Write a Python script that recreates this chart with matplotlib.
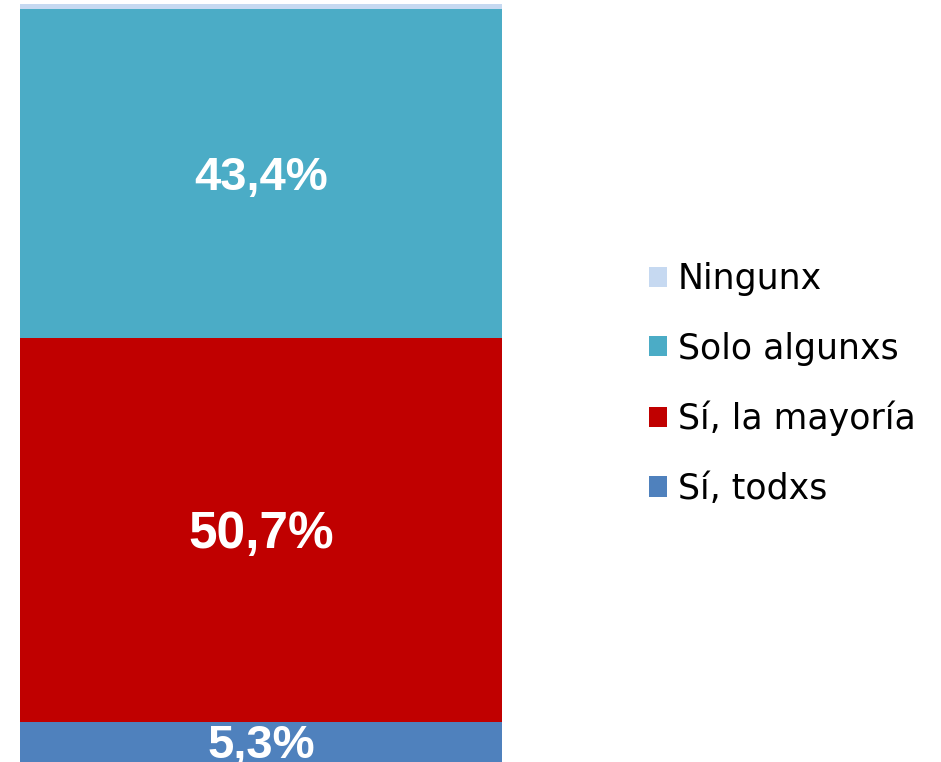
import numpy as np
import matplotlib.pyplot as plt
from matplotlib.patches import Patch

## single 100% stacked bar, bottom to top
categories = ["Sí, todxs", "Sí, la mayoría", "Solo algunxs", "Ningunx"]
values = [5.3, 50.7, 43.4, 0.6]
labels = ["5,3%", "50,7%", "43,4%", ""]
colors = ["#4F81BD", "#C00000", "#4BACC6", "#C6D9F1"]
label_sizes = [34, 37, 34, 34]

fig = plt.figure(figsize=(9.41, 7.62), dpi=100)
ax = fig.add_axes([20/941, 0, 482/941, 758/762])

bottom = 0
bars = []
for cat, val, lab, col, fs in zip(categories, values, labels, colors, label_sizes):
    b = ax.bar(0, val, width=1, bottom=bottom, color=col, label=cat)
    bars.append(b)
    if lab:
        ax.text(0, bottom + val/2 - 0.6, lab, ha="center", va="center",
                color="white", fontsize=fs, fontweight="bold",
                family="Liberation Sans")
    bottom += val

ax.set_xlim(-0.5, 0.5)
ax.set_ylim(0, 100)
ax.axis("off")

## legend top to bottom, reverse of the stack
handles = [Patch(facecolor=c) for c in colors[::-1]]
fig.legend(handles, categories[::-1], loc="center left",
           bbox_to_anchor=(649/941, 1 - 384/762), frameon=False,
           fontsize=25, handlelength=0.53, handleheight=0.53,
           handletextpad=0.3, labelspacing=1.02, borderaxespad=0,
           borderpad=0)

fig.savefig("out.png", dpi=100)
